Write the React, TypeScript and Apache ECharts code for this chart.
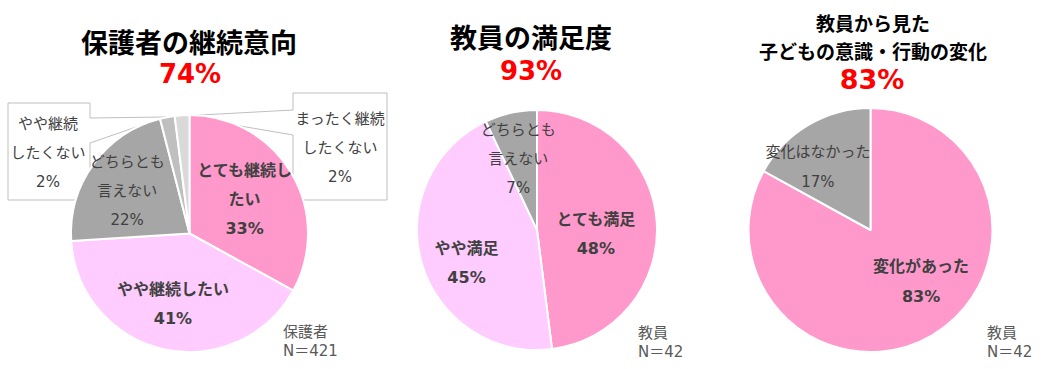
import React, { useEffect, useRef } from "react";
import * as echarts from "echarts";

const FONT = "'DejaVu Sans', 'Noto Sans CJK JP', sans-serif";
const CJK = "'Noto Sans CJK JP', sans-serif";

// Chart 1: 保護者の継続意向
const cat1 = ["とても継続したい", "やや継続したい", "どちらとも言えない", "やや継続したくない", "まったく継続したくない"];
const val1 = [33, 41, 22, 2, 2];
const lbl1 = ["とても継続し\nたい", "やや継続したい", "どちらとも\n言えない", "やや継続\nしたくない", "まったく継続\nしたくない"];

// Chart 2: 教員の満足度
const cat2 = ["とても満足", "やや満足", "どちらとも言えない"];
const val2 = [48, 45, 7];
const lbl2 = ["とても満足", "やや満足", "どちらとも\n言えない"];

// Chart 3: 子どもの意識・行動の変化
const cat3 = ["変化があった", "変化はなかった"];
const val3 = [83, 17];
const lbl3 = ["変化があった", "変化はなかった"];

const titles = ["保護者の継続意向", "教員の満足度", "教員から見た\n子どもの意識・行動の変化"];
const headline = ["74%", "93%", "83%"];
const sampleNotes = ["保護者\nN＝421", "教員\nN＝42", "教員\nN＝42"];

const colors1 = ["#FF99CC", "#FFCCFF", "#A6A6A6", "#BFBFBF", "#D9D9D9"];
const colors2 = ["#FF99CC", "#FFCCFF", "#A6A6A6"];
const colors3 = ["#FF99CC", "#A6A6A6"];
const bold1 = [true, true, false, false, false];
const bold2 = [true, true, false];
const bold3 = [true, false];
const size1 = [16, 16, 15, 15, 15];
const size2 = [16, 16, 15];
const size3 = [16, 15];

const mk = (cats: string[], vals: number[], lbls: string[], colors: string[], bolds: boolean[], sizes: number[], center: number[], radius: number, lineH: number, adjust: any[]) => ({
  type: "pie",
  center,
  radius,
  startAngle: 90,
  clockwise: true,
  avoidLabelOverlap: false,
  silent: true,
  z: 2,
  itemStyle: { borderColor: "#ffffff", borderWidth: 2 },
  label: {
    show: true,
    position: "inside",
    formatter: (p: any) => `${lbls[p.dataIndex]}\n${p.value}%`,
    color: "#404040",
    fontFamily: FONT,
    fontSize: 16,
    lineHeight: lineH,
  },
  labelLine: { show: false },
  labelLayout: (p: any) => adjust[p.dataIndex],
  data: cats.map((c, i) => ({
    name: c,
    value: vals[i],
    itemStyle: { color: colors[i] },
    label: { fontWeight: bolds[i] ? "bold" : "normal", fontSize: sizes[i] },
  })),
});

export default function App() {
  const ref = useRef<HTMLDivElement>(null);
  useEffect(() => {
    document.body.style.margin = "0";
    const chart = echarts.init(ref.current!, undefined, { renderer: "svg" });
    const adj1 = [
      { dx: 1.5, dy: -2 },
      { dx: -3, dy: 10 },
      { dx: -12, dy: -6 },
      { x: 48, y: 153, align: "center", verticalAlign: "middle" },
      { x: 340, y: 148, align: "center", verticalAlign: "middle" },
    ];
    const adj2 = [
      { dx: -4, dy: 8 },
      { dx: -10, dy: 15 },
      { dx: -5, dy: -10 },
    ];
    const adj3 = [
      { dx: 18, dy: -4 },
      { dx: -20, dy: -8 },
    ];
    const titleStyle = (text: string, size: number, lh: number) => ({
      text,
      fill: "#000000",
      font: `bold ${size}px ${CJK}`,
      lineHeight: lh,
      align: "center",
      verticalAlign: "middle",
    });
    const redStyle = (text: string, size: number) => ({
      text,
      fill: "#FF0000",
      font: `bold ${size}px ${FONT}`,
      lineHeight: Math.round(size * 1.15),
      align: "center",
      verticalAlign: "middle",
    });
    const noteStyle = (text: string) => ({
      text,
      fill: "#595959",
      font: `15px ${FONT}`,
      lineHeight: 19,
      align: "left",
      verticalAlign: "middle",
    });
    const boxStyle = { fill: "#ffffff", stroke: "#BFBFBF", lineWidth: 1 };
    chart.setOption({
      animation: false,
      backgroundColor: "#ffffff",
      graphic: [
        { type: "text", x: 189, y: 41, style: titleStyle(titles[0], 27, 31) },
        { type: "text", x: 190, y: 74, style: redStyle(headline[0], 26) },
        { type: "text", x: 531, y: 36, style: titleStyle(titles[1], 27, 31) },
        { type: "text", x: 531, y: 71, style: redStyle(headline[1], 26) },
        { type: "text", x: 873, y: 36, style: titleStyle(titles[2], 19, 28) },
        { type: "text", x: 872, y: 79, style: redStyle(headline[2], 27) },
        { type: "text", x: 283, y: 341, style: noteStyle(sampleNotes[0]) },
        { type: "text", x: 638, y: 342, style: noteStyle(sampleNotes[1]) },
        { type: "text", x: 987, y: 342, style: noteStyle(sampleNotes[2]) },
        {
          type: "polygon",
          z: 1,
          shape: { points: [[8, 103], [90, 103], [90, 118], [165, 117], [90, 143], [90, 200], [8, 200]] },
          style: boxStyle,
        },
        {
          type: "polygon",
          z: 1,
          shape: { points: [[293, 93], [387, 93], [387, 200], [293, 200], [293, 135], [182, 116], [293, 110]] },
          style: boxStyle,
        },
      ],
      series: [
        mk(cat1, val1, lbl1, colors1, bold1, size1, [189.5, 233.5], 118.5, 29, adj1),
        mk(cat2, val2, lbl2, colors2, bold2, size2, [537, 230], 120, 29, adj2),
        mk(cat3, val3, lbl3, colors3, bold3, size3, [870.5, 230], 122, 30, adj3),
      ],
    });
    return () => chart.dispose();
  }, []);
  return <div ref={ref} style={{ width: 1060, height: 369 }} />;
}
